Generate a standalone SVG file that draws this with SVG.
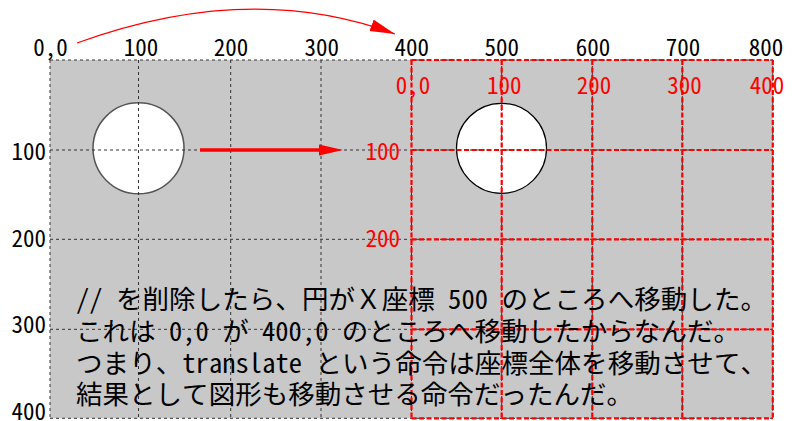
<svg xmlns="http://www.w3.org/2000/svg" width="798" height="421" viewBox="0 0 798 421">
  <style>
    .t { font-family: "Noto Sans Mono CJK JP", "Noto Sans CJK JP", "DejaVu Sans Mono", monospace; }
    .ax { font-size: 23px; fill: #000; }
    .axr { font-size: 23px; fill: #ff0000; }
    .body { font-size: 26.5px; fill: #000; }
    .g { stroke: #333; stroke-width: 1; stroke-dasharray: 3 3; fill: none; }
    .r { stroke: #ff0000; stroke-width: 2.2; stroke-dasharray: 5 2.5; fill: none; }
  </style>
  <defs>
    <marker id="ah" markerUnits="userSpaceOnUse" markerWidth="26" markerHeight="14" refX="25" refY="6" orient="auto">
      <polygon points="0,0 25,6 0,12" fill="#ff0000"/>
    </marker>
  </defs>
  <rect width="798" height="421" fill="#ffffff"/>
  <rect x="50" y="60" width="722.8" height="358.3" fill="#c8c8c8"/>

  <g id="circle-original">
    <circle cx="138.5" cy="148.3" r="45.5" fill="#ffffff" stroke="#555" stroke-width="1.5"/>
  </g>
  <g id="circle-moved">
    <circle cx="501.5" cy="148.3" r="45" fill="#ffffff" stroke="#000" stroke-width="1.2"/>
  </g>

  <g id="grid-original" class="g">
    <line x1="50" y1="60" x2="50" y2="418.3"/>
    <line x1="138.5" y1="60" x2="138.5" y2="418.3"/>
    <line x1="230.7" y1="60" x2="230.7" y2="418.3"/>
    <line x1="321" y1="60" x2="321" y2="418.3"/>
    <line x1="411.5" y1="60" x2="411.5" y2="418.3"/>
    <line x1="501.7" y1="60" x2="501.7" y2="418.3"/>
    <line x1="592.3" y1="60" x2="592.3" y2="418.3"/>
    <line x1="682.3" y1="60" x2="682.3" y2="418.3"/>
    <line x1="772.8" y1="60" x2="772.8" y2="418.3"/>
    <line x1="50" y1="60" x2="772.8" y2="60"/>
    <line x1="50" y1="150" x2="772.8" y2="150"/>
    <line x1="50" y1="239.3" x2="772.8" y2="239.3"/>
    <line x1="50" y1="329.3" x2="772.8" y2="329.3"/>
    <line x1="50" y1="418.3" x2="772.8" y2="418.3"/>
  </g>

  <g id="grid-translated" class="r">
    <line x1="411.5" y1="60" x2="411.5" y2="418.3"/>
    <line x1="501.7" y1="60" x2="501.7" y2="418.3"/>
    <line x1="592.3" y1="60" x2="592.3" y2="418.3"/>
    <line x1="682.3" y1="60" x2="682.3" y2="418.3"/>
    <line x1="772.8" y1="60" x2="772.8" y2="418.3"/>
    <line x1="411.5" y1="60" x2="772.8" y2="60"/>
    <line x1="411.5" y1="150" x2="772.8" y2="150"/>
    <line x1="411.5" y1="239.3" x2="772.8" y2="239.3"/>
    <line x1="411.5" y1="329.3" x2="772.8" y2="329.3"/>
    <line x1="411.5" y1="418.3" x2="772.8" y2="418.3"/>
  </g>

  <g id="axis-labels" class="t ax">
    <text x="50.5" y="56" text-anchor="middle">0,0</text>
    <text x="141" y="56" text-anchor="middle">100</text>
    <text x="231" y="56" text-anchor="middle">200</text>
    <text x="321.7" y="56" text-anchor="middle">300</text>
    <text x="411.7" y="56" text-anchor="middle">400</text>
    <text x="501.7" y="56" text-anchor="middle">500</text>
    <text x="593" y="56" text-anchor="middle">600</text>
    <text x="683" y="56" text-anchor="middle">700</text>
    <text x="766" y="56" text-anchor="middle">800</text>
    <text x="46" y="160" text-anchor="end">100</text>
    <text x="46" y="246.5" text-anchor="end">200</text>
    <text x="46" y="333" text-anchor="end">300</text>
    <text x="46" y="420" text-anchor="end">400</text>
  </g>

  <g id="axis-labels-translated" class="t axr">
    <text x="413" y="94" text-anchor="middle">0,0</text>
    <text x="504.3" y="94" text-anchor="middle">100</text>
    <text x="594" y="94" text-anchor="middle">200</text>
    <text x="684.5" y="94" text-anchor="middle">300</text>
    <text x="767" y="94" text-anchor="middle">400</text>
    <text x="400" y="160" text-anchor="end">100</text>
    <text x="400" y="246.5" text-anchor="end">200</text>
  </g>

  <g id="connectors">
    <path d="M77,43 Q250,-20 395,34" fill="none" stroke="#ff0000" stroke-width="1.3" marker-end="url(#ah)"/>
    <line x1="200" y1="150" x2="322" y2="150" stroke="#ff0000" stroke-width="3.5"/>
    <polygon points="319,144.5 343,150 319,155.5" fill="#ff0000"/>
  </g>

  <g id="caption" class="t body">
    <text x="76" y="309" textLength="691" lengthAdjust="spacing">// を削除したら、円がＸ座標 500 のところへ移動した。</text>
    <text x="76" y="341" textLength="664" lengthAdjust="spacing">これは 0,0 が 400,0 のところへ移動したからなんだ。</text>
    <text x="76" y="372.5" textLength="691" lengthAdjust="spacing">つまり、translate という命令は座標全体を移動させて、</text>
    <text x="76" y="404" textLength="557" lengthAdjust="spacing">結果として図形も移動させる命令だったんだ。</text>
  </g>
</svg>
